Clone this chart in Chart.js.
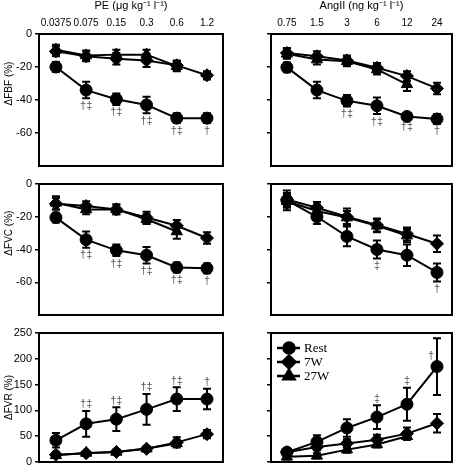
<!DOCTYPE html>
<html lang="en">
<head>
<meta charset="UTF-8">
<title>Forearm responses to PE and AngII</title>
<style>
    body {
        margin: 0;
        width: 454px;
        height: 465px;
        position: relative;
        overflow: hidden;
        background: #fff;
    }
    canvas {
        position: absolute;
    }
</style>
<script src="https://cdn.jsdelivr.net/npm/chart.js"></script>
</head>
<body>
<canvas id="fbfPe"></canvas>
<canvas id="fbfAng"></canvas>
<canvas id="fvcPe"></canvas>
<canvas id="fvcAng"></canvas>
<canvas id="fvrPe"></canvas>
<canvas id="fvrAng"></canvas>

<script>
    // doses (x categories)
    const peDoses = ['0.0375', '0.075', '0.15', '0.3', '0.6', '1.2'];
    const angDoses = ['0.75', '1.5', '3', '6', '12', '24'];
    const seriesNames = ['Rest', '7W', '27W'];

    // y tick labels
    const fbfTicks = [0, -20, -40, -60];
    const fvcTicks = [0, -20, -40, -60];
    const fvrTicks = [0, 50, 100, 150, 200, 250];

    // ΔFBF, PE
    const fbfPeRest = [-20, -34, -39.5, -43, -51, -51];
    const fbfPeRestErr = [3, 5, 3.5, 5, 3, 3];
    const fbfPe7W = [-10.5, -13.5, -15, -16, -19, -25];
    const fbfPe7WErr = [3, 3, 3.5, 4, 3, 2.5];
    const fbfPe27W = [-9.5, -13, -12.5, -12.5, -19.5, null];
    const fbfPe27WErr = [3, 3, 3, 3, 3, null];

    // ΔFBF, AngII
    const fbfAngRest = [-20.2, -34, -40.5, -43.5, -50, -51.5];
    const fbfAngRestErr = [3, 5, 3.5, 5, 2, 3];
    const fbfAng7W = [-11.5, -13.5, -16, -20.5, -25.5, -33];
    const fbfAng7WErr = [3, 3, 3, 3, 3, 3.5];
    const fbfAng27W = [-12, -15.5, -16.5, -21.5, -30.5, null];
    const fbfAng27WErr = [3, 3, 3, 3, 4, null];

    // ΔFVC, PE
    const fvcPeRest = [-20.5, -34, -40.5, -43.5, -51, -51.5];
    const fvcPeRestErr = [3, 5, 3.5, 5, 3, 3];
    const fvcPe7W = [-12, -13.5, -15.5, -20.5, -25.5, -33];
    const fvcPe7WErr = [3.5, 3, 3, 3.5, 3.5, 3.5];
    const fvcPe27W = [-11.5, -15.5, -15.5, -21.5, -29, null];
    const fvcPe27WErr = [4, 3, 3, 3, 4.5, null];

    // ΔFVC, AngII
    const fvcAngRest = [-10, -20, -32, -40, -43.5, -54];
    const fvcAngRestErr = [6, 4.5, 6, 5.5, 6.5, 5.5];
    const fvcAng7W = [-9.5, -14.5, -20, -25, -30.5, -36.5];
    const fvcAng7WErr = [4, 3.5, 5, 4, 4, 5];
    const fvcAng27W = [-10.5, -16.5, -20.5, -25.5, -31.5, null];
    const fvcAng27WErr = [4, 4, 4, 4, 4, null];

    // ΔFVR, PE
    const fvrPeRest = [42, 74, 83, 102, 122, 122];
    const fvrPeRestErr = [14, 25, 23, 30, 23, 20];
    const fvrPe7W = [14, 17, 19.5, 25.5, 38, 54];
    const fvrPe7WErr = [6, 4, 4, 5, 10, 8];
    const fvrPe27W = [13, 17.5, 19.5, 26, 36, null];
    const fvrPe27WErr = [5, 4, 4, 4, 5, null];

    // ΔFVR, AngII
    const fvrAngRest = [19, 39, 66, 87, 112, 185];
    const fvrAngRestErr = [6, 13, 17, 23, 32, 55];
    const fvrAng7W = [19, 29, 36, 43, 55, 75];
    const fvrAng7WErr = [5, 6, 8, 10, 12, 18];
    const fvrAng27W = [10, 12, 24, 34, 50, null];
    const fvrAng27WErr = [5, 5, 6, 6, 7, null];

    // significance marks on the Rest series
    const fbfPeMarks = ['', '†‡', '†‡', '†‡', '†‡', '†'];
    const fbfAngMarks = ['', '', '†‡', '†‡', '†‡', '†'];
    const fvcPeMarks = ['', '†‡', '†‡', '†‡', '†‡', '†'];
    const fvcAngMarks = ['', '', '', '‡', '', '†'];
    const fvrPeMarks = ['', '†‡', '†‡', '†‡', '†‡', '†'];
    const fvrAngMarks = ['', '', '', '‡', '‡', '†'];

    const FONT = '"Liberation Sans", Arial, Helvetica, sans-serif';
    const SERIF = '"Liberation Serif", "Times New Roman", serif';

    const markerStyles = [
        { pointStyle: 'circle', radius: 6 },
        { pointStyle: 'rectRot', radius: 6.5 },
        { pointStyle: 'triangle', radius: 6.5 }
    ];

    // frame around plot area
    const framePlugin = {
        id: 'frame',
        afterDatasetsDraw(chart) {
            const a = chart.chartArea, ctx = chart.ctx;
            ctx.save();
            ctx.strokeStyle = '#000';
            ctx.lineWidth = 2;
            ctx.strokeRect(a.left, a.top, a.right - a.left, a.bottom - a.top);
            ctx.restore();
        }
    };

    // vertical error bars with caps
    const errorBarPlugin = {
        id: 'errorBars',
        beforeDatasetsDraw(chart) {
            const ctx = chart.ctx, xs = chart.scales.x, ys = chart.scales.y;
            ctx.save();
            ctx.strokeStyle = '#000';
            ctx.lineWidth = 2;
            chart.data.datasets.forEach(ds => {
                ds.data.forEach(p => {
                    const e = ds.err[p.x];
                    if (!e) return;
                    const x = xs.getPixelForValue(p.x);
                    const y1 = ys.getPixelForValue(p.y + e);
                    const y2 = ys.getPixelForValue(p.y - e);
                    ctx.beginPath();
                    ctx.moveTo(x, y1); ctx.lineTo(x, y2);
                    ctx.moveTo(x - 4, y1); ctx.lineTo(x + 4, y1);
                    ctx.moveTo(x - 4, y2); ctx.lineTo(x + 4, y2);
                    ctx.stroke();
                });
            });
            ctx.restore();
        }
    };

    // daggers next to the Rest points
    const marksPlugin = {
        id: 'marks',
        afterDatasetsDraw(chart, args, opts) {
            if (!opts.texts) return;
            const ctx = chart.ctx, xs = chart.scales.x, ys = chart.scales.y;
            const ds = chart.data.datasets[0];
            ctx.save();
            ctx.fillStyle = '#555';
            ctx.font = '11px ' + FONT;
            ctx.textAlign = 'center';
            ds.data.forEach(p => {
                const t = opts.texts[p.x];
                if (!t) return;
                const x = xs.getPixelForValue(p.x);
                const e = ds.err[p.x] || 0;
                if (opts.below) {
                    ctx.textBaseline = 'top';
                    ctx.fillText(t, x, ys.getPixelForValue(p.y - e) + 2);
                } else {
                    const y = ys.getPixelForValue(p.y + e) - 1;
                    if (y - 12 < chart.chartArea.top) {
                        ctx.textBaseline = 'middle';
                        ctx.fillText(t, x - 6, ys.getPixelForValue(p.y) - 11);
                    } else {
                        ctx.textBaseline = 'bottom';
                        ctx.fillText(t, x, y);
                    }
                }
            });
            ctx.restore();
        }
    };

    // rotated y title, centred on the labelled ticks
    const yTitlePlugin = {
        id: 'yTitle',
        afterDraw(chart, args, opts) {
            if (!opts.text) return;
            const ctx = chart.ctx, ys = chart.scales.y;
            const vals = opts.ticks;
            const yMid = (ys.getPixelForValue(vals[0]) + ys.getPixelForValue(vals[vals.length - 1])) / 2;
            ctx.save();
            ctx.translate(chart.chartArea.left - 30, yMid);
            ctx.rotate(-Math.PI / 2);
            ctx.fillStyle = '#000';
            ctx.font = '10px ' + FONT;
            ctx.textAlign = 'center';
            ctx.textBaseline = 'middle';
            ctx.fillText(opts.text, 0, 0);
            ctx.restore();
        }
    };

    // legend with line + marker, inside the plot area
    const lineLegendPlugin = {
        id: 'lineLegend',
        afterDraw(chart, args, opts) {
            if (!opts.show) return;
            const ctx = chart.ctx, a = chart.chartArea;
            const rows = [15, 29, 43];
            ctx.save();
            chart.data.datasets.forEach((ds, k) => {
                const y = a.top + rows[k];
                ctx.strokeStyle = '#000';
                ctx.fillStyle = '#000';
                ctx.lineWidth = 2.5;
                ctx.beginPath();
                ctx.moveTo(a.left + 6, y);
                ctx.lineTo(a.left + 29, y);
                ctx.stroke();
                Chart.helpers.drawPoint(ctx, {
                    pointStyle: markerStyles[k].pointStyle,
                    radius: k === 0 ? 5.5 : 6.5,
                    rotation: 0,
                    borderWidth: 1
                }, a.left + 18, y);
                ctx.font = '13px ' + SERIF;
                ctx.textAlign = 'left';
                ctx.textBaseline = 'middle';
                ctx.fillText(ds.label, a.left + 33, y + 1);
            });
            ctx.restore();
        }
    };

    function makePanel(canvasId, cfg) {
        const a = cfg.area;
        const topRow = !!cfg.xLabels;
        const cLeft = a.left - 45;
        const cTop = topRow ? 0 : a.top - 30;
        const canvas = document.getElementById(canvasId);
        canvas.width = a.right - cLeft + 10;
        canvas.height = a.bottom - cTop + 10;
        canvas.style.left = cLeft + 'px';
        canvas.style.top = cTop + 'px';

        const datasets = cfg.series.map((s, k) => ({
            label: seriesNames[k],
            data: s.values.map((v, i) => ({ x: i, y: v })).filter(p => p.y !== null),
            err: s.err,
            borderColor: '#000',
            backgroundColor: '#000',
            borderWidth: 2,
            pointStyle: markerStyles[k].pointStyle,
            pointRadius: markerStyles[k].radius,
            pointBackgroundColor: '#000',
            pointBorderColor: '#000',
            pointBorderWidth: 1,
            tension: 0
        }));

        new Chart(canvas, {
            type: 'line',
            data: { datasets: datasets },
            plugins: [errorBarPlugin, framePlugin, marksPlugin, yTitlePlugin, lineLegendPlugin],
            options: {
                responsive: false,
                animation: false,
                events: [],
                layout: {
                    padding: { left: 0, right: 10, top: topRow ? 0 : 30, bottom: 10 }
                },
                scales: {
                    x: {
                        type: 'linear',
                        position: 'top',
                        display: topRow,
                        min: cfg.xMin,
                        max: cfg.xMax,
                        afterBuildTicks: s => { s.ticks = [0, 1, 2, 3, 4, 5].map(v => ({ value: v })); },
                        afterFit: s => { if (topRow) s.height = a.top - cTop; },
                        grid: { display: false, drawTicks: false },
                        border: { display: false },
                        ticks: {
                            autoSkip: false,
                            maxRotation: 0,
                            padding: 5,
                            color: '#000',
                            font: { family: FONT, size: 10 },
                            callback: (v, i) => cfg.xLabels ? cfg.xLabels[i] : ''
                        },
                        title: {
                            display: topRow,
                            text: cfg.xTitle || '',
                            color: '#000',
                            font: { family: FONT, size: 11, lineHeight: 1 },
                            padding: { top: 0, bottom: 0 }
                        }
                    },
                    y: {
                        type: 'linear',
                        min: cfg.yMin,
                        max: cfg.yMax,
                        afterBuildTicks: s => { s.ticks = cfg.yTicks.map(v => ({ value: v })); },
                        afterFit: s => { s.width = 45; },
                        grid: {
                            drawOnChartArea: false,
                            drawTicks: true,
                            tickLength: 4,
                            color: '#000',
                            lineWidth: 1.5
                        },
                        border: { display: false },
                        ticks: {
                            padding: 3,
                            color: '#000',
                            font: { family: FONT, size: 11 },
                            callback: v => cfg.showYLabels ? String(v) : ''
                        }
                    }
                },
                plugins: {
                    legend: { display: false },
                    tooltip: { enabled: false },
                    marks: { texts: cfg.marks, below: cfg.marksBelow },
                    yTitle: { text: cfg.yTitle || '', ticks: cfg.yTicks },
                    lineLegend: { show: !!cfg.legend }
                }
            }
        });
    }

    const leftArea = { left: 39, right: 223 };
    const rightArea = { left: 271, right: 452 };
    const rows = [
        { top: 34, bottom: 166 },
        { top: 184, bottom: 315 },
        { top: 333, bottom: 462 }
    ];
    const area = (col, row) => Object.assign({}, col, rows[row]);
    const leftX = { xMin: -0.56, xMax: 5.53 };
    const rightX = { xMin: -0.53, xMax: 5.5 };

    makePanel('fbfPe', Object.assign({
        area: area(leftArea, 0), yMin: -80, yMax: 0, yTicks: fbfTicks, showYLabels: true,
        yTitle: 'ΔFBF (%)', xLabels: peDoses, xTitle: 'PE (μg kg⁻¹ l⁻¹)',
        series: [
            { values: fbfPeRest, err: fbfPeRestErr },
            { values: fbfPe7W, err: fbfPe7WErr },
            { values: fbfPe27W, err: fbfPe27WErr }
        ],
        marks: fbfPeMarks, marksBelow: true
    }, leftX));

    makePanel('fbfAng', Object.assign({
        area: area(rightArea, 0), yMin: -80, yMax: 0, yTicks: fbfTicks, showYLabels: false,
        xLabels: angDoses, xTitle: 'AngII (ng kg⁻¹ l⁻¹)',
        series: [
            { values: fbfAngRest, err: fbfAngRestErr },
            { values: fbfAng7W, err: fbfAng7WErr },
            { values: fbfAng27W, err: fbfAng27WErr }
        ],
        marks: fbfAngMarks, marksBelow: true
    }, rightX));

    makePanel('fvcPe', Object.assign({
        area: area(leftArea, 1), yMin: -80, yMax: 0, yTicks: fvcTicks, showYLabels: true,
        yTitle: 'ΔFVC (%)',
        series: [
            { values: fvcPeRest, err: fvcPeRestErr },
            { values: fvcPe7W, err: fvcPe7WErr },
            { values: fvcPe27W, err: fvcPe27WErr }
        ],
        marks: fvcPeMarks, marksBelow: true
    }, leftX));

    makePanel('fvcAng', Object.assign({
        area: area(rightArea, 1), yMin: -80, yMax: 0, yTicks: fvcTicks, showYLabels: false,
        series: [
            { values: fvcAngRest, err: fvcAngRestErr },
            { values: fvcAng7W, err: fvcAng7WErr },
            { values: fvcAng27W, err: fvcAng27WErr }
        ],
        marks: fvcAngMarks, marksBelow: true
    }, rightX));

    makePanel('fvrPe', Object.assign({
        area: area(leftArea, 2), yMin: 0, yMax: 250, yTicks: fvrTicks, showYLabels: true,
        yTitle: 'ΔFVR (%)',
        series: [
            { values: fvrPeRest, err: fvrPeRestErr },
            { values: fvrPe7W, err: fvrPe7WErr },
            { values: fvrPe27W, err: fvrPe27WErr }
        ],
        marks: fvrPeMarks, marksBelow: false
    }, leftX));

    makePanel('fvrAng', Object.assign({
        area: area(rightArea, 2), yMin: 0, yMax: 250, yTicks: fvrTicks, showYLabels: false,
        series: [
            { values: fvrAngRest, err: fvrAngRestErr },
            { values: fvrAng7W, err: fvrAng7WErr },
            { values: fvrAng27W, err: fvrAng27WErr }
        ],
        marks: fvrAngMarks, marksBelow: false, legend: true
    }, rightX));
</script>
</body>
</html>
